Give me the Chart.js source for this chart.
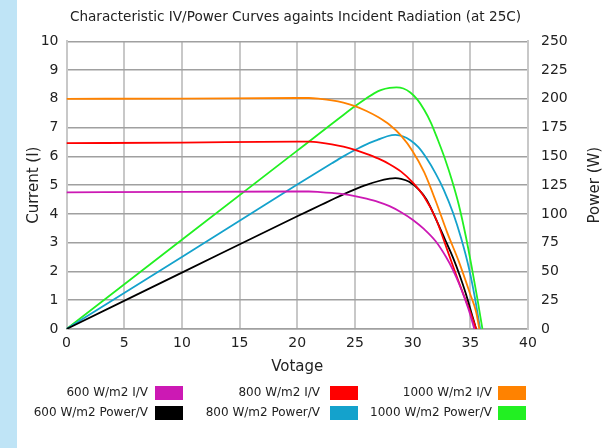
<!DOCTYPE html>
<html>
<head>
<meta charset="utf-8">
<script src="https://cdn.jsdelivr.net/npm/chart.js@4.4.0/dist/chart.umd.min.js"></script>
<style>
  html, body { margin: 0; padding: 0; }
  body {
    width: 604px; height: 448px; position: relative; overflow: hidden;
    background: linear-gradient(to right, #bfe4f6 0, #bfe4f6 17px, #ffffff 17px);
    font-family: "DejaVu Sans", sans-serif;
  }
  #wrap { position: absolute; left: 0; top: 0; width: 604px; height: 448px; }
  #legend { position: absolute; left: 0; top: 0; width: 604px; height: 448px; pointer-events: none; }
  .item { position: absolute; font-size: 12px; color: #222; white-space: nowrap; }
  .box { position: absolute; width: 28px; height: 14px; }
</style>
</head>
<body>
<div id="wrap"><canvas id="chart" width="604" height="448"></canvas></div>
<div id="legend"></div>
<script>
// =========================
//  Data
// =========================

const v600iv = [0, 10, 20, 21, 22, 23, 24, 25, 26, 27, 28, 29, 30, 31, 32, 32.9, 33.5, 34, 34.5, 34.9, 35.35];
const i600 = [4.75, 4.77, 4.78, 4.78, 4.76, 4.73, 4.69, 4.62, 4.53, 4.42, 4.27, 4.06, 3.8, 3.47, 3.05, 2.5, 2.05, 1.6, 1.08, 0.62, 0];

const v800iv = [0, 10, 20, 21, 22, 23, 24, 25, 26, 27, 28, 29, 30, 31, 32, 33, 33.8, 34.6, 35.1, 35.5];
const i800 = [6.46, 6.48, 6.51, 6.51, 6.48, 6.42, 6.34, 6.23, 6.09, 5.93, 5.73, 5.47, 5.1, 4.6, 3.85, 2.75, 1.85, 1.0, 0.48, 0];

const v1000iv = [0, 10, 20, 21, 22, 23, 24, 25, 26, 27, 28, 29, 30, 31, 32, 33, 34, 35, 35.5, 35.78];
const i1000 = [8.0, 8.01, 8.03, 8.03, 8.0, 7.95, 7.87, 7.75, 7.58, 7.37, 7.1, 6.72, 6.18, 5.45, 4.45, 3.35, 2.35, 1.2, 0.6, 0];

const v600p = [0, 10, 20, 22, 23, 24, 25, 26, 27, 28, 28.5, 29, 29.7, 30.5, 31.2, 32, 32.8, 33.5, 34.1, 34.6, 35.1, 35.5];
const p600 = [0, 49, 98, 107.5, 112.3, 117, 121.3, 125.2, 128.4, 130.6, 131.1, 130.5, 128, 121.5, 112.5, 96, 78, 62, 46, 31, 14, 0];

const v800p = [0, 10, 20, 23, 24, 25, 26, 27, 27.8, 28.5, 29.2, 29.8, 30.5, 31.2, 32, 32.7, 33.5, 34.2, 34.9, 35.4, 35.85];
const p800 = [0, 62.5, 125.5, 144, 150, 155.5, 160.5, 164.5, 167.5, 168.7, 167.3, 164, 158, 148.5, 135, 121, 101, 79, 52, 27, 0];

const v1000p = [0, 10, 20, 24, 25, 26, 26.7, 27.3, 28, 28.6, 29.2, 29.8, 30.4, 31, 31.6, 32.2, 32.8, 33.4, 34, 34.6, 35.1, 35.6, 36.05];
const p1000 = [0, 77.5, 155, 186, 193.5, 200.5, 205, 207.8, 209.5, 210, 209, 205.5, 199.5, 190.5, 179, 164, 148, 129.5, 108, 81, 55, 27, 0];

const seriesLabels = [
  "600 W/m2 I/V", "800 W/m2 I/V", "1000 W/m2 I/V",
  "600 W/m2 Power/V", "800 W/m2 Power/V", "1000 W/m2 Power/V"
];
const seriesColors = ["#cc19b4", "#ff0000", "#ff8200", "#000000", "#14a2cc", "#22f022"];

const xTicks = [0, 5, 10, 15, 20, 25, 30, 35, 40];

// =========================
//  Helpers
// =========================

function pts(xs, ys) {
  return xs.map((x, i) => ({ x: x, y: ys[i] }));
}

function lineSet(idx, data, axis) {
  return {
    label: seriesLabels[idx],
    data: data,
    borderColor: seriesColors[idx],
    backgroundColor: seriesColors[idx],
    borderWidth: 1.8,
    pointRadius: 0,
    cubicInterpolationMode: "monotone",
    fill: false,
    yAxisID: axis,
  };
}

// right axis title reads bottom-to-top, draw it ourselves
const rightTitle = {
  id: "rightTitle",
  afterDraw(chart) {
    const ctx = chart.ctx;
    const a = chart.chartArea;
    ctx.save();
    ctx.translate(595, (a.top + a.bottom) / 2);
    ctx.rotate(-Math.PI / 2);
    ctx.font = '15px "DejaVu Sans"';
    ctx.fillStyle = "#222";
    ctx.textAlign = "center";
    ctx.textBaseline = "middle";
    ctx.fillText("Power (W)", 0, 0);
    ctx.restore();
  }
};

// =========================
//  Chart
// =========================

const ctx = document.getElementById("chart").getContext("2d");

const chart = new Chart(ctx, {
  type: "line",
  data: {
    datasets: [
      lineSet(0, pts(v600iv, i600), "y"),
      lineSet(1, pts(v800iv, i800), "y"),
      lineSet(2, pts(v1000iv, i1000), "y"),
      lineSet(3, pts(v600p, p600), "y1"),
      lineSet(4, pts(v800p, p800), "y1"),
      lineSet(5, pts(v1000p, p1000), "y1"),
    ],
  },
  options: {
    responsive: false,
    animation: false,
    layout: { padding: { top: 0, bottom: 69, left: 0, right: 13 } },
    plugins: {
      legend: { display: false },
      tooltip: { enabled: false },
      title: {
        display: true,
        text: "Characteristic IV/Power Curves againts Incident Radiation (at 25C)",
        color: "#222",
        font: { family: "DejaVu Sans", size: 13.6, weight: "normal" },
        padding: { top: 9, bottom: 16 },
      },
    },
    scales: {
      x: {
        type: "linear",
        min: 0,
        max: 40,
        afterBuildTicks: s => { s.ticks = xTicks.map(v => ({ value: v })); },
        afterFit: s => { s.height = 50; },
        grid: { color: "#c8c8c8", lineWidth: 2, drawTicks: false },
        border: { color: "#a0a0a0", width: 1.5 },
        ticks: { color: "#222", padding: 6, font: { family: "DejaVu Sans", size: 14 } },
        title: {
          display: true, text: "Votage", color: "#222",
          font: { family: "DejaVu Sans", size: 15 }, padding: { top: 0, bottom: 3 },
        },
      },
      y: {
        position: "left",
        min: 0,
        max: 10,
        afterFit: s => { s.width = 66.5; },
        grid: { color: "#a0a0a0", lineWidth: 1.5, drawTicks: false },
        border: { color: "#c8c8c8", width: 2 },
        ticks: { stepSize: 1, color: "#222", padding: 8, font: { family: "DejaVu Sans", size: 14 } },
        title: {
          display: true, text: "Current (I)", color: "#222",
          font: { family: "DejaVu Sans", size: 15 }, padding: { top: 25, bottom: 0 },
        },
      },
      y1: {
        position: "right",
        min: 0,
        max: 250,
        afterFit: s => { s.width = 63; },
        grid: { drawOnChartArea: false, drawTicks: false },
        border: { color: "#c8c8c8", width: 2 },
        ticks: { stepSize: 25, color: "#222", padding: 13, font: { family: "DejaVu Sans", size: 14 } },
      },
    },
  },
  plugins: [rightTitle],
});

// =========================
//  Legend (text, then colour box)
// =========================

const legendTextRight = [148, 320, 492];
const legendBoxLeft = [155, 330, 498];
const legendRowY = [393, 413];

const legend = document.getElementById("legend");
seriesLabels.forEach((label, k) => {
  const col = k % 3;
  const row = Math.floor(k / 3);
  const txt = document.createElement("div");
  txt.className = "item";
  txt.style.left = (legendTextRight[col] - 200) + "px";
  txt.style.width = "200px";
  txt.style.top = (legendRowY[row] - 8) + "px";
  txt.style.textAlign = "right";
  txt.textContent = label;
  legend.appendChild(txt);

  const box = document.createElement("div");
  box.className = "box";
  box.style.left = legendBoxLeft[col] + "px";
  box.style.top = (legendRowY[row] - 7) + "px";
  box.style.background = seriesColors[k];
  legend.appendChild(box);
});
</script>
</body>
</html>
